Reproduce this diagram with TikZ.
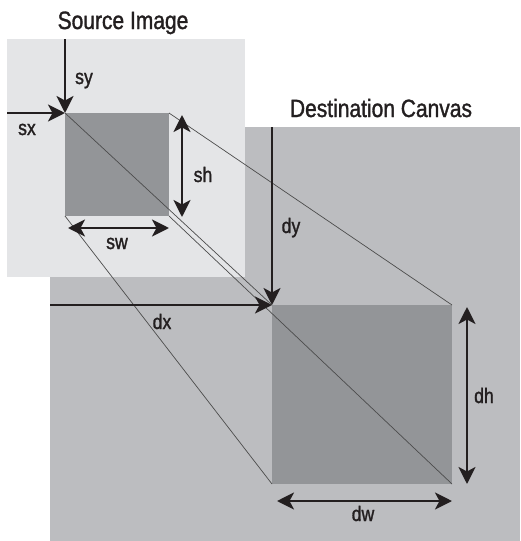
\documentclass[tikz,border=0pt]{standalone}
\usepackage{fontspec}
\newfontfamily\condfont{Liberation Sans}[FakeStretch=0.84, FakeBold=1.3]
\usetikzlibrary{arrows.meta}
\definecolor{srcbg}{HTML}{E4E5E7}
\definecolor{dstbg}{HTML}{BCBDC0}
\definecolor{boxfill}{HTML}{939598}
\definecolor{ink}{HTML}{231F20}

\begin{document}
\begin{tikzpicture}[x=1pt, y=-1pt,
  tip/.tip={Stealth[length=17pt, width=17pt, inset=4.5pt]},
  dimarr/.style={line width=2.7pt, draw=ink, -tip},
  dimboth/.style={line width=2.7pt, draw=ink, tip-tip},
  proj/.style={draw=black!70, line width=0.7pt},
  ttl/.style={font=\condfont\fontsize{25}{29}\selectfont, text=ink,
              anchor=base, inner sep=0pt},
  lbl/.style={font=\condfont\fontsize{21}{25}\selectfont, text=ink,
              anchor=base, inner sep=0pt}]
\useasboundingbox (0,0) rectangle (520,541);

%% Destination canvas and source image
\fill[dstbg]  (50,127) rectangle (520,541);
\fill[srcbg]  (7,39)   rectangle (245,277);
\node[ttl] (srcttl) at (123,29)  {Source Image};
\node[ttl] (dstttl) at (381,117) {Destination Canvas};

%% Corners of the copied region
\coordinate (s1) at (65,113);  \coordinate (s2) at (169,113);
\coordinate (s3) at (169,216); \coordinate (s4) at (65,216);
\coordinate (d1) at (272,305); \coordinate (d2) at (452,305);
\coordinate (d3) at (452,484); \coordinate (d4) at (272,484);
\fill[boxfill] (s1) rectangle (s3);
\fill[boxfill] (d1) rectangle (d3);

%% Projection lines
\draw[proj] (s1)--(d1); \draw[proj] (s2)--(d2);
\draw[proj] (s3)--(d3); \draw[proj] (s4)--(d4);

%% Offsets
\coordinate (sytop) at (65,39);   \coordinate (sxleft) at (7,113);
\coordinate (dytop) at (272,127); \coordinate (dxleft) at (50,305);
\draw[dimarr] (sytop)--(s1);
\draw[dimarr] (sxleft)--(s1);
\draw[dimarr] (dytop)--(d1);
\draw[dimarr] (dxleft)--(d1);

%% Sizes
\coordinate (sh1) at (182,115); \coordinate (sh2) at (182,217);
\coordinate (sw1) at (68,228);  \coordinate (sw2) at (169,228);
\coordinate (dh1) at (467,307); \coordinate (dh2) at (467,484);
\coordinate (dw1) at (277,501); \coordinate (dw2) at (452,501);
\draw[dimboth] (sh1)--(sh2);
\draw[dimboth] (sw1)--(sw2);
\draw[dimboth] (dh1)--(dh2);
\draw[dimboth] (dw1)--(dw2);

%% Labels
\node[lbl] (sy) at (84,84)   {sy};
\node[lbl] (sx) at (27,135)  {sx};
\node[lbl] (sh) at (203,182) {sh};
\node[lbl] (sw) at (117,249) {sw};
\node[lbl] (dy) at (291,233) {dy};
\node[lbl] (dx) at (162,329) {dx};
\node[lbl] (dh) at (484,403) {dh};
\node[lbl] (dw) at (363,521) {dw};
\end{tikzpicture}
\end{document}
